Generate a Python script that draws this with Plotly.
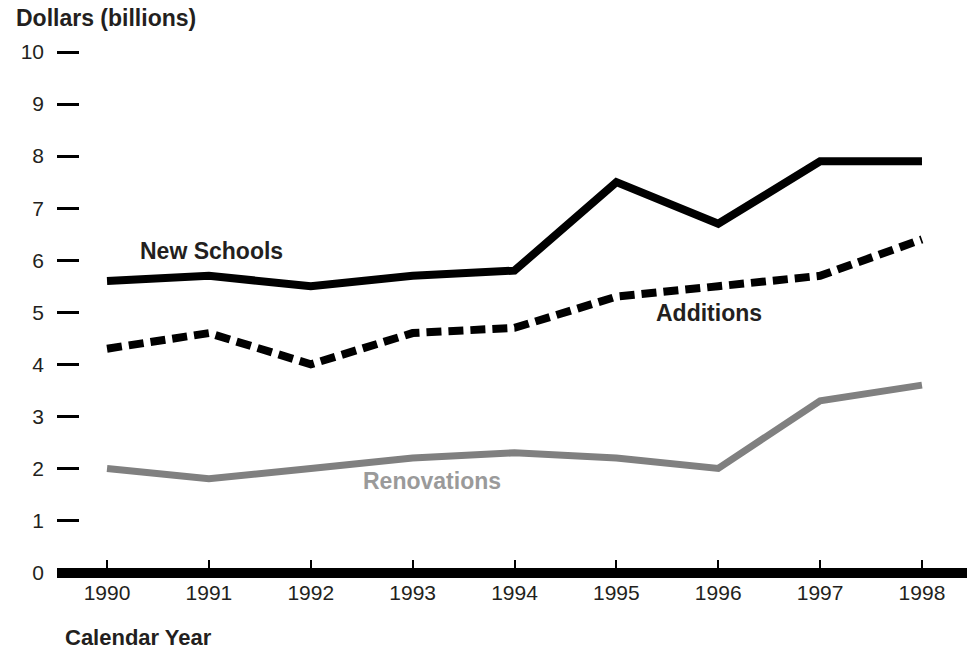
import plotly.graph_objects as go

years = [1990, 1991, 1992, 1993, 1994, 1995, 1996, 1997, 1998]
new_schools = [5.6, 5.7, 5.5, 5.7, 5.8, 7.5, 6.7, 7.9, 7.9]
additions = [4.3, 4.6, 4.0, 4.6, 4.7, 5.3, 5.5, 5.7, 6.4]
renovations = [2.0, 1.8, 2.0, 2.2, 2.3, 2.2, 2.0, 3.3, 3.6]
y_ticks = list(range(0, 11))

FONT = "Liberation Sans, Arial, Helvetica, sans-serif"
TXT = "#231f20"

fig = go.Figure()
fig.add_trace(go.Scatter(x=years, y=renovations, mode="lines",
                         line=dict(color="#808080", width=7), name="Renovations"))
fig.add_trace(go.Scatter(x=years, y=additions, mode="lines",
                         line=dict(color="black", width=8, dash="15px,7px"), name="Additions"))
fig.add_trace(go.Scatter(x=years, y=new_schools, mode="lines",
                         line=dict(color="black", width=8), name="New Schools"))

fig.update_layout(
    width=967, height=649,
    margin=dict(l=57, r=0, t=40, b=72),
    plot_bgcolor="white", paper_bgcolor="white",
    showlegend=False,
    font=dict(family=FONT, color=TXT, size=21),
    xaxis=dict(range=[1989.509, 1998.442], tickmode="array", tickvals=years,
               ticktext=[str(y) for y in years], ticks="inside", ticklen=17,
               tickwidth=2, tickcolor="black", showgrid=False, zeroline=False,
               showline=False, tickfont=dict(size=21, color=TXT), ticklabelstandoff=1),
    yaxis=dict(range=[-0.0865, 10.2308], tickmode="array", tickvals=y_ticks,
               ticks="inside", ticklen=22, tickwidth=3, tickcolor="black",
               showgrid=False, zeroline=True, zerolinewidth=10, zerolinecolor="black",
               showline=False, tickfont=dict(size=21, color=TXT), ticklabelstandoff=12),
)

fig.add_annotation(text="<b>Dollars (billions)</b>", xref="paper", yref="paper",
                   x=-43/910, y=(577-18)/537, xanchor="left", yanchor="middle",
                   showarrow=False, font=dict(size=23, color=TXT))
fig.add_annotation(text="<b>Calendar Year</b>", xref="paper", yref="paper",
                   x=6/910, y=(577-637)/537, xanchor="left", yanchor="middle",
                   showarrow=False, font=dict(size=22, color=TXT))
fig.add_annotation(text="<b>New Schools</b>", x=1991.03, y=6.18, showarrow=False,
                   font=dict(size=23, color=TXT))
fig.add_annotation(text="<b>Additions</b>", x=1995.91, y=4.99, showarrow=False,
                   font=dict(size=23, color=TXT))
fig.add_annotation(text="<b>Renovations</b>", x=1993.19, y=1.76, showarrow=False,
                   font=dict(size=23, color="#9a9a9a"))

fig.write_html("out.html", config={"displayModeBar": False},
               post_script="document.body.style.margin='0';document.body.style.padding='0';")
